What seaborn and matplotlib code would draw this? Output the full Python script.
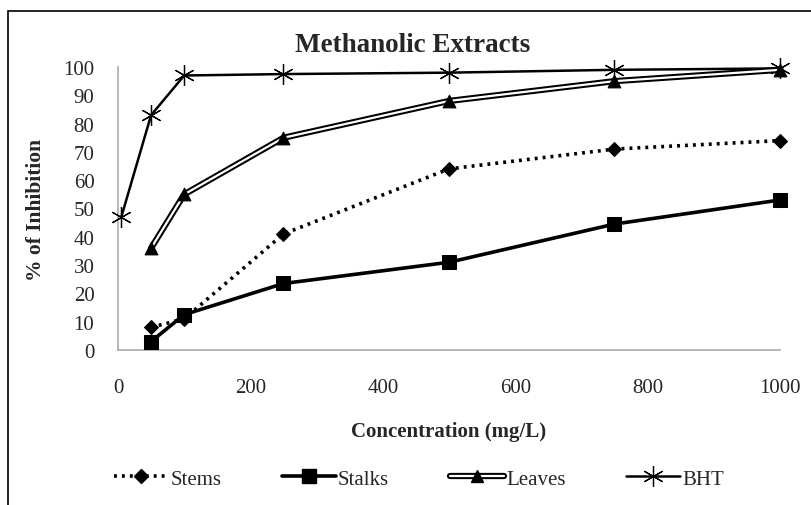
import matplotlib
matplotlib.use("Agg")
import matplotlib.pyplot as plt
import matplotlib.patheffects as pe
from matplotlib.lines import Line2D
from matplotlib.patches import Rectangle
import seaborn as sns
import pandas as pd

conc = [50, 100, 250, 500, 750, 1000]
bht_conc = [5, 50, 100, 250, 500, 750, 1000]
stems = [8, 11, 41, 64, 71, 74]
stalks = [3, 12.5, 23.5, 31, 44.5, 53]
leaves = [36, 55, 75, 88, 95, 99]
bht = [47, 83, 97, 97.5, 98, 99, 99.5]
xticks = [0, 200, 400, 600, 800, 1000]
yticks = list(range(0, 101, 10))
labels = ["Stems", "Stalks", "Leaves", "BHT"]

sns.set_theme(style="white")
plt.rcParams['font.family'] = ['Liberation Serif', 'DejaVu Serif']

W, H = 812, 506
fig = plt.figure(figsize=(W/100, H/100), dpi=100)
x0, x1, y0, y1 = 118, 780, 351, 68
ax = fig.add_axes([x0/W, 1-y0/H, (x1-x0)/W, (y0-y1)/H])

df_stems = pd.DataFrame({"x": conc, "y": stems})
df_stalks = pd.DataFrame({"x": conc, "y": stalks})
df_leaves = pd.DataFrame({"x": conc, "y": leaves})
df_bht = pd.DataFrame({"x": bht_conc, "y": bht})

stem_ls = (0, (0.8, 1.4))
leaf_pe = [pe.Stroke(linewidth=4.5, foreground="black"), pe.Stroke(linewidth=1.6, foreground="white")]

sns.lineplot(data=df_bht, x="x", y="y", ax=ax, color="black", lw=1.8,
             marker=(6, 2, 0), markersize=15, markeredgewidth=0.9,
             markeredgecolor="black", clip_on=False, zorder=3)
sns.lineplot(data=df_leaves, x="x", y="y", ax=ax, color="white", lw=1.6,
             path_effects=leaf_pe, zorder=3, clip_on=False)
sns.scatterplot(data=df_leaves, x="x", y="y", ax=ax, color="black", marker="^",
                s=85, edgecolor="black", zorder=4, clip_on=False)
sns.lineplot(data=df_stems, x="x", y="y", ax=ax, color="black", lw=2.6,
             linestyle=stem_ls, marker="D", markersize=7,
             markeredgecolor="black", zorder=3, clip_on=False)
sns.lineplot(data=df_stalks, x="x", y="y", ax=ax, color="black", lw=2.6,
             marker="s", markersize=10, markeredgecolor="black", zorder=3, clip_on=False)

ax.set_xlim(0, 1000)
ax.set_ylim(0, 100)
ax.set_xticks(xticks)
ax.set_yticks(yticks)
ax.tick_params(axis="both", direction="out", length=7, width=1, color="#aaaaaa",
               labelsize=15)
ax.tick_params(axis="x", pad=13)
ax.tick_params(axis="y", pad=10)
for s in ["top", "right"]:
    ax.spines[s].set_visible(False)
for s in ["left", "bottom"]:
    ax.spines[s].set_color("#aaaaaa")
    ax.spines[s].set_linewidth(1.2)

ax.set_xlabel("Concentration (mg/L)", fontsize=15, fontweight="bold")
ax.xaxis.label.set_va("center")
ax.xaxis.set_label_coords(0.5, (y0-432)/(y0-y1))
ax.set_ylabel("% of Inhibition", fontsize=15.5, fontweight="bold")
ax.yaxis.label.set_va("center")
ax.yaxis.set_label_coords((36-x0)/(x1-x0), 0.5)
t = ax.set_title("Methanolic Extracts", fontsize=19.5, fontweight="bold",
                 y=(y0-45)/(y0-y1), pad=0)
t.set_verticalalignment("center")
t.set_x((413-x0)/(x1-x0))
if ax.get_legend():
    ax.get_legend().remove()

handles = [
    Line2D([], [], color="black", lw=2.6, linestyle=stem_ls, marker="D", markersize=7),
    Line2D([], [], color="black", lw=2.6, marker="s", markersize=10),
    (Line2D([], [], color="white", lw=1.6, path_effects=leaf_pe),
     Line2D([], [], color="black", lw=0, marker="^", markersize=9)),
    Line2D([], [], color="black", lw=1.8, marker=(6, 2, 0), markersize=15, markeredgewidth=0.9),
]
fig.legend(handles, labels, loc="center", bbox_to_anchor=(419/W, 1-480/H), ncol=4,
           frameon=False, fontsize=15, handlelength=2.6, handletextpad=0.1,
           columnspacing=2.9)

fig.patches.append(Rectangle((8/W, -0.1), 1.2, (1-12/H)+0.1, transform=fig.transFigure,
                             fill=False, edgecolor="black", lw=1.2))

fig.savefig("out.png", dpi=100)
